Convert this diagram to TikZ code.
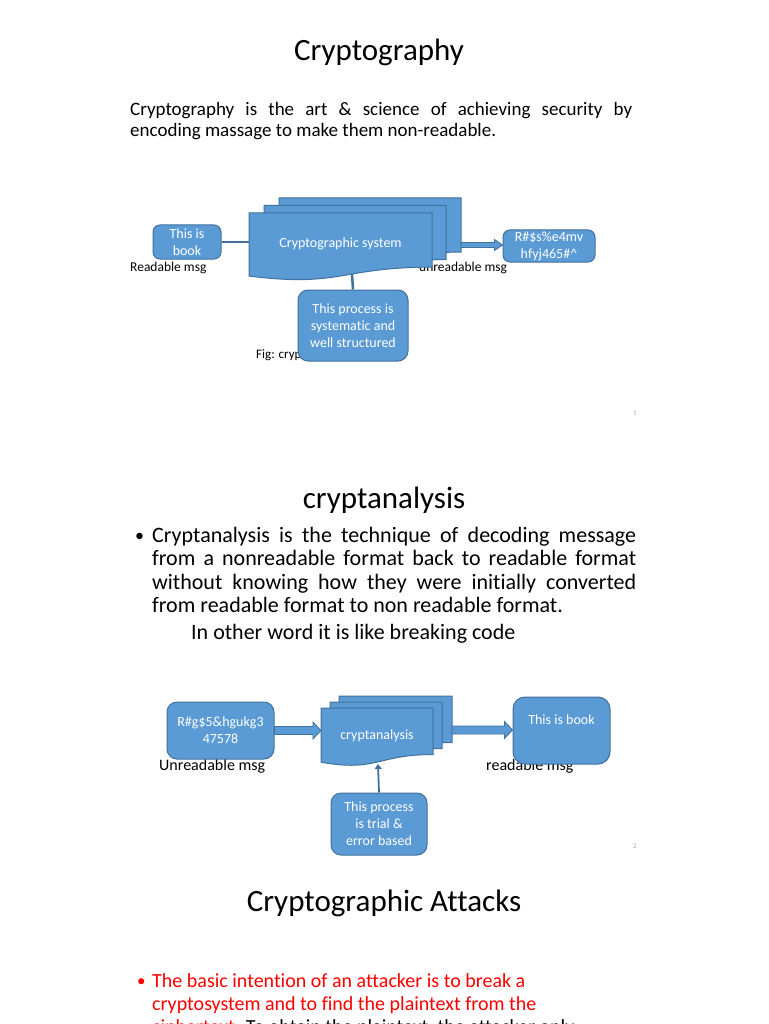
\documentclass[tikz,border=0pt]{standalone}
\usepackage{fontspec}
\setmainfont[Ligatures={NoCommon}]{Carlito}
\usetikzlibrary{arrows.meta,calc}
\definecolor{docfill}{RGB}{91,155,213}
\definecolor{docline}{RGB}{65,113,156}
\definecolor{alertred}{RGB}{255,0,0}

\begin{document}
\begin{tikzpicture}[x=1pt, y=-1pt,
    slidetitle/.style ={anchor=base, inner sep=0pt, font=\fontsize{31}{36}\selectfont},
    slidetext/.style ={anchor=base west, inner sep=0pt},
    msglabel/.style ={anchor=base west, inner sep=0pt, font=\fontsize{13.5}{16}\selectfont},
    msgbox/.style ={rectangle, rounded corners=7pt, draw=docline, fill=docfill, line width=1pt,
                    text=white, align=center, inner sep=0pt, font=\fontsize{14}{17}\selectfont},
    sheet/.style ={draw=docline, fill=docfill, line width=1pt},
    wire/.style ={draw=docline, line width=2.5pt},
    pagenum/.style ={text=gray!70, inner sep=0pt, font=\fontsize{7}{8}\selectfont},
    pics/sheetdoc/.style 2 args={code={
      \filldraw[sheet, xscale=#1, yscale=#2] (0,0) -- (1,0) -- (1,0.802)
        .. controls (0.5,0.802) and (0.5,1.107) .. (0,0.934) -- cycle;}}]
   \fill[white] (0,0) rectangle (768,1024);
   \useasboundingbox (0,0) rectangle (768,1024);
   \clip (0,0) rectangle (768,1024);

   % slide 1
   \node[slidetitle] (t1) at (379,61) {Cryptography};
   \node[slidetext, font=\fontsize{19}{21}\selectfont] (p1) at (130,115.5) {\makebox[502pt][s]{Cryptography is the art \& science of achieving security by}};
   \node[slidetext, font=\fontsize{19}{21}\selectfont] (p2) at (130,136.5) {encoding massage to make them non-readable.};

   \node[msglabel] (l1) at (130,271.5) {Readable msg};
   \node[msglabel] (l2) at (419,271.5) {unreadable msg};
   \node[msglabel, font=\fontsize{13}{15}\selectfont] (fig) at (256,358) {Fig: cryp};

   \pic at (279,198) {sheetdoc={182}{67.5}};
   \pic at (264,205.5) {sheetdoc={182}{67.5}};
   \pic at (249,213) {sheetdoc={183}{67.5}};
   \node[text=white, inner sep=0pt, font=\fontsize{14}{17}\selectfont] (sys) at (340.5,244) {Cryptographic system};
   \coordinate (sys-w) at (249,242);
   \coordinate (sys-e) at (461,245);
   \coordinate (sys-s) at (352,274);

   \node[msgbox, minimum width=68pt, minimum height=34pt] (book1) at (187,242) {This is\\book};
   \node[msgbox, minimum width=92pt, minimum height=32pt] (enc1) at (549,246) {R\#\$s\%e4mv\\hfyj465\#\textasciicircum};
   \node[msgbox, rounded corners=10pt, minimum width=110pt, minimum height=71pt] (proc1) at (353,325.5) {This process is\\systematic and\\well structured};

   \draw[wire] (book1.east) -- (sys-w);
   \draw[wire] (sys-s) -- (proc1.north);
   \filldraw[sheet, line width=0.8pt] let \p1=(sys-e), \p2=(enc1.west) in
     (\x1,\y1+2.5pt) -- (\x2-8pt,\y1+2.5pt) -- (\x2-8pt,\y1+5.5pt) -- (\x2,\y1)
     -- (\x2-8pt,\y1-5.5pt) -- (\x2-8pt,\y1-2.5pt) -- (\x1,\y1-2.5pt) -- cycle;

   \node[pagenum] (n1) at (635,413) {1};

   % slide 2
   \node[slidetitle] (t2) at (384,508) {cryptanalysis};
   \node[slidetext, font=\fontsize{18}{24}\selectfont] (dot2) at (135,541) {•};
   \node[slidetext, font=\fontsize{22}{24}\selectfont] (c1) at (152,542) {\makebox[484pt][s]{Cryptanalysis is the technique of decoding message}};
   \node[slidetext, font=\fontsize{22}{24}\selectfont] (c2) at (152,565.5) {\makebox[484pt][s]{from a nonreadable format back to readable format}};
   \node[slidetext, font=\fontsize{22}{24}\selectfont] (c3) at (152,589) {\makebox[484pt][s]{without knowing how they were initially converted}};
   \node[slidetext, font=\fontsize{22}{24}\selectfont] (c4) at (152,612.5) {from readable format to non readable format.};
   \node[slidetext, font=\fontsize{22}{24}\selectfont] (c5) at (191,639) {In other word it is like breaking code};

   \node[msglabel, font=\fontsize{16}{18}\selectfont] (l3) at (159,770.5) {Unreadable msg};
   \node[msglabel, font=\fontsize{16}{18}\selectfont] (l4) at (486,770.5) {readable msg};

   \pic at (339,696) {sheetdoc={113}{58}};
   \pic at (330,702) {sheetdoc={112}{58}};
   \pic at (321,708) {sheetdoc={112}{58}};
   \node[text=white, inner sep=0pt, font=\fontsize{14}{17}\selectfont] (ana) at (377,736) {cryptanalysis};
   \coordinate (ana-w) at (321,731);
   \coordinate (ana-e) at (452,730);
   \coordinate (ana-s) at (378,764);

   \node[msgbox, rounded corners=10pt, minimum width=107pt, minimum height=57pt] (cipher2) at (220.5,730.5) {R\#g\$5\&hgukg3\\47578};
   \node[msgbox, rounded corners=12pt, minimum width=97pt, minimum height=67pt] (book2) at (561.5,730.5) {This is book\\\strut};
   \node[msgbox, rounded corners=10pt, minimum width=96pt, minimum height=62pt] (proc2) at (379,824) {This process\\is trial \&\\error based};

   \filldraw[sheet, line width=0.8pt] let \p1=(cipher2.east), \p2=(ana-w) in
     (\x1,\y1+4pt) -- (\x2-8pt,\y1+4pt) -- (\x2-8pt,\y1+8.5pt) -- (\x2,\y1)
     -- (\x2-8pt,\y1-8.5pt) -- (\x2-8pt,\y1-4pt) -- (\x1,\y1-4pt) -- cycle;
   \filldraw[sheet, line width=0.8pt] let \p1=(ana-e), \p2=(book2.west) in
     (\x1,\y1+4pt) -- (\x2-8pt,\y1+4pt) -- (\x2-8pt,\y1+8.5pt) -- (\x2,\y1)
     -- (\x2-8pt,\y1-8.5pt) -- (\x2-8pt,\y1-4pt) -- (\x1,\y1-4pt) -- cycle;
   \draw[wire, line width=1.8pt, -{Triangle[length=5pt,width=7pt]}] (proc2.north) -- (ana-s);

   \node[pagenum] (n2) at (635,846) {2};

   % slide 3
   \node[slidetitle] (t3) at (384,911) {Cryptographic Attacks};
   \node[slidetext, text=alertred, font=\fontsize{17}{23}\selectfont] (dot3) at (137,986) {•};
   \node[slidetext, text=alertred, font=\fontsize{20}{23}\selectfont] (a1) at (152,987) {The basic intention of an attacker is to break a};
   \node[slidetext, text=alertred, font=\fontsize{20}{23}\selectfont] (a2) at (152,1010) {cryptosystem and to find the plaintext from the};
   \node[slidetext, font=\fontsize{20}{23}\selectfont] (a3) at (152,1033) {\textcolor{alertred}{ciphertext}. To obtain the plaintext, the attacker only};
\end{tikzpicture}
\end{document}
